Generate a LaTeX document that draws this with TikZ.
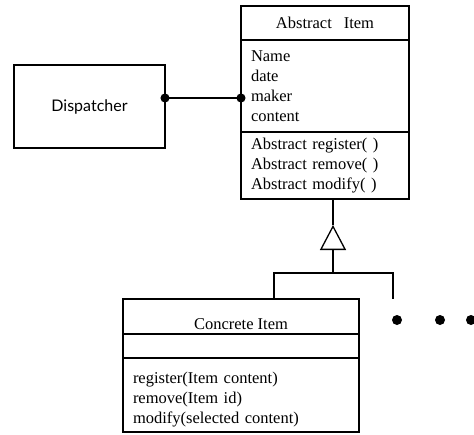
\documentclass[tikz,border=0pt]{standalone}
\usepackage{fontspec}
\setmainfont{Liberation Serif}
\newfontfamily\dispfont{Lato}
\usetikzlibrary{positioning,arrows.meta}

\tikzset{
	box/.style={draw,line width=1.3pt,outer sep=0pt,inner xsep=10pt,inner ysep=0pt},
	part/.style={box,align=left},
	dotlink/.style={{Circle[length=9pt]}-{Circle[length=9pt]},shorten <=-4.5pt,shorten >=-4.5pt},
	inherit/.style={-{Triangle[open,length=25pt,width=26pt]}}
}

\begin{document}
\begin{tikzpicture}[x=1pt,y=-1pt,line width=1.3pt,font=\fontsize{16.5}{20}\selectfont]
	\useasboundingbox (0,0) rectangle (474,434);

	% dispatcher
	\node[box,minimum width=151pt,minimum height=83pt,font=\dispfont\fontsize{16}{20}\selectfont] (disp) at (89.5,106.5) {Dispatcher};

	% abstract class
	\node[box,minimum width=168pt,minimum height=34pt,anchor=north west] (abstitle) at (241,6) {Abstract\hspace{12pt}Item};
	\node[part,text width=148pt,minimum height=92pt,below=0pt of abstitle] (absattr) {Name\\date\\maker\\content};
	\node[part,text width=148pt,minimum height=67pt,below=0pt of absattr] (absmeth) {Abstract register( )\\Abstract remove( )\\Abstract modify( )};

	% concrete class
	\node[box,minimum width=236pt,minimum height=35pt,text height=26pt,text depth=0pt,anchor=north west] (conctitle) at (123,299) {Concrete Item};
	\node[box,minimum width=236pt,minimum height=24pt,below=0pt of conctitle] (concattr) {};
	\node[part,text width=216pt,minimum height=74pt,below=0pt of concattr] (concmeth) {\mbox{}\\register(Item content)\\remove(Item id)\\modify(selected content)};

	\draw[dotlink] ([yshift=8.5pt]disp.east) -- ([yshift=8.5pt]disp.east -| absattr.west);

	\coordinate (apex) at (333,225);
	\coordinate (join) at (333,273);
	\coordinate (more) at (393,299);
	\draw (absmeth.south -| apex) -- (apex);
	\draw[inherit] (join) -- (apex);
	\draw ([xshift=33pt]conctitle.north) |- (join) -| (more);

	\foreach \x in {397,440,471}
		\fill (\x,320) circle (5pt);
\end{tikzpicture}
\end{document}
